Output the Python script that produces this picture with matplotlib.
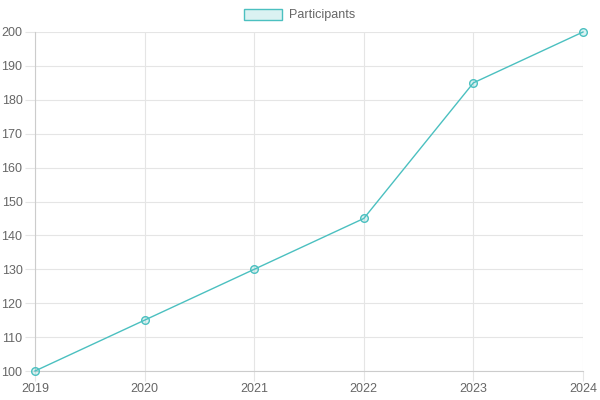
import matplotlib.pyplot as plt
from matplotlib.patches import Patch

plt.rcParams['font.family'] = ['Liberation Sans', 'DejaVu Sans']

years = ['2019', '2020', '2021', '2022', '2023', '2024']
participants = [100, 115, 130, 145, 185, 200]

LINE = (75/255, 192/255, 192/255)
FILL = (75/255, 192/255, 192/255, 0.2)
GRID = '#e5e5e5'
TEXT = '#666666'

fig = plt.figure(figsize=(6, 4), dpi=100)
ax = fig.add_axes([35/600, 1 - 371/400, 548/600, 339/400])

x = list(range(len(years)))
ax.plot(x, participants, color=LINE, lw=1, marker='o', ms=5.5,
        mfc=FILL, mec=LINE, mew=1, clip_on=False, zorder=3)

ax.set_xlim(0, len(years) - 1)
ax.set_ylim(100, 200)
ax.set_xticks(x)
ax.set_xticklabels(years)
ax.set_yticks(range(100, 201, 10))

ax.grid(True, color=GRID, lw=0.8)
ax.set_axisbelow(True)
for s in ['top', 'right']:
    ax.spines[s].set_visible(False)
for s in ['left', 'bottom']:
    ax.spines[s].set_color('#cccccc')
    ax.spines[s].set_linewidth(0.8)
ax.tick_params(colors=GRID, labelcolor=TEXT, labelsize=9, length=7, width=0.8, pad=2)

leg = fig.legend(handles=[Patch(facecolor=FILL, edgecolor=LINE, lw=1, label='Participants')],
                 loc='center', bbox_to_anchor=(0.5, 1 - 15/400), frameon=False,
                 fontsize=9, handlelength=3.0, handleheight=1.0, handletextpad=0.6)
for t in leg.get_texts():
    t.set_color(TEXT)

fig.savefig('out.png', dpi=100)
